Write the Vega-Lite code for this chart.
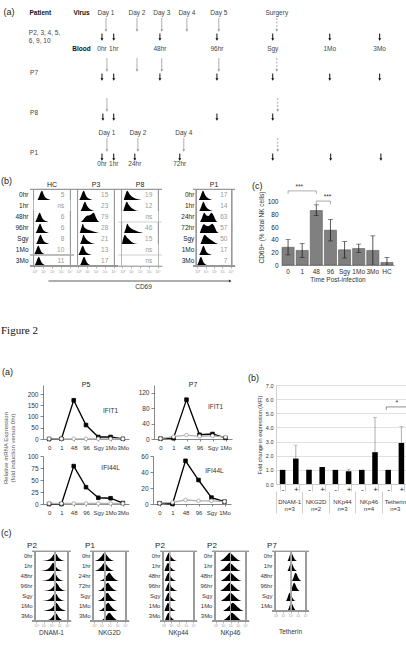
{
"$schema":"https://vega.github.io/schema/vega-lite/v6.json",
"background":"white",
"padding":0,
"config":{
 "font":"Liberation Sans",
 "view":{"stroke":null},
 "axis":{"labelFontSize":6.5,"titleFontSize":6.5,"labelColor":"#333","titleColor":"#333","titleFontWeight":"normal","domainColor":"#888","tickColor":"#888","domainWidth":0.7,"tickWidth":0.7,"grid":false,"labelPadding":2,"tickSize":2,"titlePadding":3},
 "header":{"labelFontSize":7,"labelColor":"#222","titleFontSize":7},
 "title":{"fontSize":9,"fontWeight":"normal","color":"#222","anchor":"start","frame":"bounds","offset":2},
 "text":{"fontSize":6.5,"color":"#444"}
},
"datasets":{
 "lanes":[{"lane":1},{"lane":2},{"lane":3},{"lane":4}],
 "events":[
  {"lane":1,"kind":"panel","pos":-26.1,"label":"(a)"},
  {"lane":1,"kind":"head-virus","pos":-16,"label":"Patient"},
  {"lane":1,"kind":"head-virus","pos":-2.7,"label":"Virus"},
  {"lane":1,"kind":"head-blood","pos":-2.7,"label":"Blood"},
  {"lane":1,"kind":"lane","pos":-19.7,"label":"P2, 3, 4, 5,|6, 9, 10"},
  {"lane":2,"kind":"lane","pos":-19.3,"label":"P7"},
  {"lane":3,"kind":"lane","pos":-19.3,"label":"P8"},
  {"lane":4,"kind":"lane","pos":-19.3,"label":"P1"},
  {"lane":1,"kind":"virus","pos":5.2,"label":"Day 1"},
  {"lane":1,"kind":"virus","pos":15.2,"label":"Day 2"},
  {"lane":1,"kind":"virus","pos":23.2,"label":"Day 3"},
  {"lane":1,"kind":"virus","pos":31.3,"label":"Day 4"},
  {"lane":1,"kind":"virus","pos":41.6,"label":"Day 5"},
  {"lane":1,"kind":"surgery","pos":60.3,"label":"Surgery"},
  {"lane":1,"kind":"blood","pos":3.9,"label":"0hr"},
  {"lane":1,"kind":"blood","pos":7.7,"label":"1hr"},
  {"lane":1,"kind":"blood","pos":22.6,"label":"48hr"},
  {"lane":1,"kind":"blood","pos":41.0,"label":"96hr"},
  {"lane":1,"kind":"blood","pos":59.0,"label":"Sgy"},
  {"lane":1,"kind":"blood","pos":77.4,"label":"1Mo"},
  {"lane":1,"kind":"blood","pos":93.5,"label":"3Mo"},
  {"lane":2,"kind":"virus","pos":5.5},
  {"lane":2,"kind":"virus","pos":15.2},
  {"lane":2,"kind":"virus","pos":23.2},
  {"lane":2,"kind":"virus","pos":41.6},
  {"lane":2,"kind":"surgery","pos":60.3},
  {"lane":2,"kind":"blood","pos":3.9},
  {"lane":2,"kind":"blood","pos":7.7},
  {"lane":2,"kind":"blood","pos":22.6},
  {"lane":2,"kind":"blood","pos":41.0},
  {"lane":2,"kind":"blood","pos":59.0},
  {"lane":2,"kind":"blood","pos":77.4},
  {"lane":2,"kind":"blood","pos":93.5},
  {"lane":3,"kind":"virus","pos":5.5},
  {"lane":3,"kind":"surgery","pos":60.6},
  {"lane":3,"kind":"blood","pos":4.2},
  {"lane":3,"kind":"blood","pos":7.7},
  {"lane":3,"kind":"blood","pos":41.0},
  {"lane":3,"kind":"blood","pos":59.0},
  {"lane":4,"kind":"virus","pos":5.5,"label":"Day 1"},
  {"lane":4,"kind":"virus","pos":15.5,"label":"Day 2"},
  {"lane":4,"kind":"virus","pos":30.3,"label":"Day 4"},
  {"lane":4,"kind":"surgery","pos":60.6},
  {"lane":4,"kind":"blood","pos":3.9,"label":"0hr"},
  {"lane":4,"kind":"blood","pos":7.7,"label":"1hr"},
  {"lane":4,"kind":"blood","pos":14.5,"label":"24hr"},
  {"lane":4,"kind":"blood","pos":29.0,"label":"72hr"},
  {"lane":4,"kind":"blood","pos":59.0},
  {"lane":4,"kind":"blood","pos":77.7},
  {"lane":4,"kind":"blood","pos":93.9}
 ],
 "cd69":[
  {"c":"HC","r":"0hr","n":"5"},
  {"c":"HC","r":"0hr","x":0.35,"y":0},{"c":"HC","r":"0hr","x":0.55,"y":0.4},{"c":"HC","r":"0hr","x":0.75,"y":0.9},{"c":"HC","r":"0hr","x":0.85,"y":1},{"c":"HC","r":"0hr","x":1.0,"y":0.75},{"c":"HC","r":"0hr","x":1.2,"y":0.35},{"c":"HC","r":"0hr","x":1.55,"y":0.1},{"c":"HC","r":"0hr","x":1.85,"y":0},
  {"c":"HC","r":"1hr","n":"ns"},
  {"c":"HC","r":"48hr","n":"6"},
  {"c":"HC","r":"48hr","x":0.1,"y":0},{"c":"HC","r":"48hr","x":0.3,"y":0.4},{"c":"HC","r":"48hr","x":0.5,"y":0.9},{"c":"HC","r":"48hr","x":0.6,"y":1},{"c":"HC","r":"48hr","x":0.75,"y":0.75},{"c":"HC","r":"48hr","x":0.95,"y":0.35},{"c":"HC","r":"48hr","x":1.3,"y":0.1},{"c":"HC","r":"48hr","x":1.6,"y":0},
  {"c":"HC","r":"96hr","n":"6"},
  {"c":"HC","r":"96hr","x":0.15,"y":0},{"c":"HC","r":"96hr","x":0.35,"y":0.4},{"c":"HC","r":"96hr","x":0.55,"y":0.9},{"c":"HC","r":"96hr","x":0.65,"y":1},{"c":"HC","r":"96hr","x":0.8,"y":0.75},{"c":"HC","r":"96hr","x":1.0,"y":0.35},{"c":"HC","r":"96hr","x":1.35,"y":0.1},{"c":"HC","r":"96hr","x":1.65,"y":0},
  {"c":"HC","r":"Sgy","n":"8"},
  {"c":"HC","r":"Sgy","x":0.2,"y":0},{"c":"HC","r":"Sgy","x":0.4,"y":0.4},{"c":"HC","r":"Sgy","x":0.6,"y":0.9},{"c":"HC","r":"Sgy","x":0.7,"y":1},{"c":"HC","r":"Sgy","x":0.85,"y":0.75},{"c":"HC","r":"Sgy","x":1.05,"y":0.35},{"c":"HC","r":"Sgy","x":1.4,"y":0.1},{"c":"HC","r":"Sgy","x":1.7,"y":0},
  {"c":"HC","r":"1Mo","n":"10"},
  {"c":"HC","r":"1Mo","x":-0.05,"y":0},{"c":"HC","r":"1Mo","x":0.15,"y":0.4},{"c":"HC","r":"1Mo","x":0.35,"y":0.9},{"c":"HC","r":"1Mo","x":0.45,"y":1},{"c":"HC","r":"1Mo","x":0.6,"y":0.75},{"c":"HC","r":"1Mo","x":0.8,"y":0.35},{"c":"HC","r":"1Mo","x":1.15,"y":0.1},{"c":"HC","r":"1Mo","x":1.45,"y":0},
  {"c":"HC","r":"3Mo","n":"11"},
  {"c":"HC","r":"3Mo","x":0.0,"y":0},{"c":"HC","r":"3Mo","x":0.2,"y":0.4},{"c":"HC","r":"3Mo","x":0.4,"y":0.9},{"c":"HC","r":"3Mo","x":0.5,"y":1},{"c":"HC","r":"3Mo","x":0.65,"y":0.75},{"c":"HC","r":"3Mo","x":0.85,"y":0.35},{"c":"HC","r":"3Mo","x":1.2,"y":0.1},{"c":"HC","r":"3Mo","x":1.5,"y":0},
  {"c":"P3","r":"0hr","n":"15"},
  {"c":"P3","r":"0hr","x":0.1,"y":0},{"c":"P3","r":"0hr","x":0.3,"y":0.4},{"c":"P3","r":"0hr","x":0.5,"y":0.9},{"c":"P3","r":"0hr","x":0.6,"y":1},{"c":"P3","r":"0hr","x":0.75,"y":0.75},{"c":"P3","r":"0hr","x":0.95,"y":0.35},{"c":"P3","r":"0hr","x":1.3,"y":0.1},{"c":"P3","r":"0hr","x":1.6,"y":0},
  {"c":"P3","r":"1hr","n":"23"},
  {"c":"P3","r":"1hr","x":0.25,"y":0},{"c":"P3","r":"1hr","x":0.45,"y":0.4},{"c":"P3","r":"1hr","x":0.65,"y":0.9},{"c":"P3","r":"1hr","x":0.75,"y":1},{"c":"P3","r":"1hr","x":0.9,"y":0.75},{"c":"P3","r":"1hr","x":1.1,"y":0.4},{"c":"P3","r":"1hr","x":1.45,"y":0.15},{"c":"P3","r":"1hr","x":1.8,"y":0},
  {"c":"P3","r":"48hr","n":"79"},
  {"c":"P3","r":"48hr","x":0.25,"y":0},{"c":"P3","r":"48hr","x":0.5,"y":0.2},{"c":"P3","r":"48hr","x":0.8,"y":0.55},{"c":"P3","r":"48hr","x":1.05,"y":0.7},{"c":"P3","r":"48hr","x":1.3,"y":0.75},{"c":"P3","r":"48hr","x":1.55,"y":0.9},{"c":"P3","r":"48hr","x":1.75,"y":1},{"c":"P3","r":"48hr","x":1.95,"y":0.6},{"c":"P3","r":"48hr","x":2.2,"y":0.15},{"c":"P3","r":"48hr","x":2.4,"y":0},
  {"c":"P3","r":"96hr","n":"28"},
  {"c":"P3","r":"96hr","x":0.15,"y":0},{"c":"P3","r":"96hr","x":0.35,"y":0.6},{"c":"P3","r":"96hr","x":0.5,"y":1},{"c":"P3","r":"96hr","x":0.65,"y":0.65},{"c":"P3","r":"96hr","x":0.9,"y":0.45},{"c":"P3","r":"96hr","x":1.3,"y":0.3},{"c":"P3","r":"96hr","x":1.8,"y":0.15},{"c":"P3","r":"96hr","x":2.4,"y":0},
  {"c":"P3","r":"Sgy","n":"21"},
  {"c":"P3","r":"Sgy","x":0.2,"y":0},{"c":"P3","r":"Sgy","x":0.4,"y":0.5},{"c":"P3","r":"Sgy","x":0.58,"y":1},{"c":"P3","r":"Sgy","x":0.75,"y":0.7},{"c":"P3","r":"Sgy","x":1.0,"y":0.4},{"c":"P3","r":"Sgy","x":1.4,"y":0.15},{"c":"P3","r":"Sgy","x":1.9,"y":0},
  {"c":"P3","r":"1Mo","n":"13"},
  {"c":"P3","r":"1Mo","x":0.0,"y":0},{"c":"P3","r":"1Mo","x":0.2,"y":0.4},{"c":"P3","r":"1Mo","x":0.4,"y":0.9},{"c":"P3","r":"1Mo","x":0.5,"y":1},{"c":"P3","r":"1Mo","x":0.65,"y":0.75},{"c":"P3","r":"1Mo","x":0.85,"y":0.35},{"c":"P3","r":"1Mo","x":1.2,"y":0.1},{"c":"P3","r":"1Mo","x":1.5,"y":0},
  {"c":"P3","r":"3Mo","n":"17"},
  {"c":"P3","r":"3Mo","x":0.15,"y":0},{"c":"P3","r":"3Mo","x":0.35,"y":0.4},{"c":"P3","r":"3Mo","x":0.55,"y":0.9},{"c":"P3","r":"3Mo","x":0.65,"y":1},{"c":"P3","r":"3Mo","x":0.8,"y":0.75},{"c":"P3","r":"3Mo","x":1.0,"y":0.35},{"c":"P3","r":"3Mo","x":1.35,"y":0.1},{"c":"P3","r":"3Mo","x":1.65,"y":0},
  {"c":"P8","r":"0hr","n":"19"},
  {"c":"P8","r":"0hr","x":0.15,"y":0},{"c":"P8","r":"0hr","x":0.35,"y":0.6},{"c":"P8","r":"0hr","x":0.55,"y":1},{"c":"P8","r":"0hr","x":0.75,"y":0.75},{"c":"P8","r":"0hr","x":1.0,"y":0.45},{"c":"P8","r":"0hr","x":1.4,"y":0.2},{"c":"P8","r":"0hr","x":1.9,"y":0.05},{"c":"P8","r":"0hr","x":2.2,"y":0},
  {"c":"P8","r":"1hr","n":"12"},
  {"c":"P8","r":"1hr","x":0.1,"y":0},{"c":"P8","r":"1hr","x":0.3,"y":0.6},{"c":"P8","r":"1hr","x":0.5,"y":1},{"c":"P8","r":"1hr","x":0.7,"y":0.7},{"c":"P8","r":"1hr","x":0.95,"y":0.4},{"c":"P8","r":"1hr","x":1.35,"y":0.15},{"c":"P8","r":"1hr","x":1.9,"y":0},
  {"c":"P8","r":"48hr","n":"ns"},
  {"c":"P8","r":"96hr","n":"46"},
  {"c":"P8","r":"96hr","x":0.2,"y":0},{"c":"P8","r":"96hr","x":0.4,"y":0.55},{"c":"P8","r":"96hr","x":0.55,"y":1},{"c":"P8","r":"96hr","x":0.75,"y":0.7},{"c":"P8","r":"96hr","x":1.0,"y":0.5},{"c":"P8","r":"96hr","x":1.4,"y":0.3},{"c":"P8","r":"96hr","x":1.9,"y":0.1},{"c":"P8","r":"96hr","x":2.4,"y":0},
  {"c":"P8","r":"Sgy","n":"15"},
  {"c":"P8","r":"Sgy","x":-0.05,"y":0},{"c":"P8","r":"Sgy","x":0.1,"y":0.6},{"c":"P8","r":"Sgy","x":0.28,"y":1},{"c":"P8","r":"Sgy","x":0.45,"y":0.8},{"c":"P8","r":"Sgy","x":0.75,"y":0.5},{"c":"P8","r":"Sgy","x":1.1,"y":0.2},{"c":"P8","r":"Sgy","x":1.7,"y":0},
  {"c":"P8","r":"1Mo","n":"ns"},
  {"c":"P8","r":"3Mo","n":"ns"},
  {"c":"P1","r":"0hr","n":"17"},
  {"c":"P1","r":"0hr","x":0.2,"y":0},{"c":"P1","r":"0hr","x":0.4,"y":0.4},{"c":"P1","r":"0hr","x":0.6,"y":0.9},{"c":"P1","r":"0hr","x":0.7,"y":1},{"c":"P1","r":"0hr","x":0.85,"y":0.75},{"c":"P1","r":"0hr","x":1.05,"y":0.4},{"c":"P1","r":"0hr","x":1.4,"y":0.15},{"c":"P1","r":"0hr","x":1.8,"y":0},
  {"c":"P1","r":"1hr","n":"14"},
  {"c":"P1","r":"1hr","x":0.25,"y":0},{"c":"P1","r":"1hr","x":0.45,"y":0.4},{"c":"P1","r":"1hr","x":0.65,"y":0.9},{"c":"P1","r":"1hr","x":0.75,"y":1},{"c":"P1","r":"1hr","x":0.9,"y":0.75},{"c":"P1","r":"1hr","x":1.1,"y":0.4},{"c":"P1","r":"1hr","x":1.45,"y":0.15},{"c":"P1","r":"1hr","x":1.85,"y":0},
  {"c":"P1","r":"24hr","n":"63"},
  {"c":"P1","r":"24hr","x":0.35,"y":0},{"c":"P1","r":"24hr","x":0.55,"y":0.4},{"c":"P1","r":"24hr","x":0.85,"y":1},{"c":"P1","r":"24hr","x":1.1,"y":0.7},{"c":"P1","r":"24hr","x":1.35,"y":0.65},{"c":"P1","r":"24hr","x":1.7,"y":1},{"c":"P1","r":"24hr","x":1.95,"y":0.7},{"c":"P1","r":"24hr","x":2.2,"y":0.2},{"c":"P1","r":"24hr","x":2.45,"y":0},
  {"c":"P1","r":"72hr","n":"57"},
  {"c":"P1","r":"72hr","x":0.3,"y":0},{"c":"P1","r":"72hr","x":0.5,"y":0.5},{"c":"P1","r":"72hr","x":0.8,"y":0.95},{"c":"P1","r":"72hr","x":1.05,"y":0.8},{"c":"P1","r":"72hr","x":1.3,"y":0.75},{"c":"P1","r":"72hr","x":1.55,"y":0.85},{"c":"P1","r":"72hr","x":1.8,"y":1},{"c":"P1","r":"72hr","x":2.05,"y":0.7},{"c":"P1","r":"72hr","x":2.3,"y":0.2},{"c":"P1","r":"72hr","x":2.6,"y":0},
  {"c":"P1","r":"Sgy","n":"50"},
  {"c":"P1","r":"Sgy","x":0.4,"y":0},{"c":"P1","r":"Sgy","x":0.6,"y":0.5},{"c":"P1","r":"Sgy","x":0.9,"y":1},{"c":"P1","r":"Sgy","x":1.1,"y":0.85},{"c":"P1","r":"Sgy","x":1.4,"y":0.6},{"c":"P1","r":"Sgy","x":1.8,"y":0.35},{"c":"P1","r":"Sgy","x":2.2,"y":0.1},{"c":"P1","r":"Sgy","x":2.5,"y":0},
  {"c":"P1","r":"1Mo","n":"17"},
  {"c":"P1","r":"1Mo","x":0.25,"y":0},{"c":"P1","r":"1Mo","x":0.45,"y":0.4},{"c":"P1","r":"1Mo","x":0.65,"y":0.9},{"c":"P1","r":"1Mo","x":0.75,"y":1},{"c":"P1","r":"1Mo","x":0.9,"y":0.75},{"c":"P1","r":"1Mo","x":1.1,"y":0.35},{"c":"P1","r":"1Mo","x":1.45,"y":0.1},{"c":"P1","r":"1Mo","x":1.75,"y":0},
  {"c":"P1","r":"3Mo","n":"7"},
  {"c":"P1","r":"3Mo","x":-0.05,"y":0},{"c":"P1","r":"3Mo","x":0.15,"y":0.4},{"c":"P1","r":"3Mo","x":0.35,"y":0.9},{"c":"P1","r":"3Mo","x":0.45,"y":1},{"c":"P1","r":"3Mo","x":0.6,"y":0.75},{"c":"P1","r":"3Mo","x":0.8,"y":0.35},{"c":"P1","r":"3Mo","x":1.15,"y":0.1},{"c":"P1","r":"3Mo","x":1.45,"y":0}
 ],
 "cd69bar":[
  {"t":"0","v":28,"lo":16,"hi":40},{"t":"1","v":23,"lo":12,"hi":34},{"t":"48","v":86,"lo":78,"hi":95},{"t":"96","v":55,"lo":38,"hi":72},
  {"t":"Sgy","v":24,"lo":11,"hi":37},{"t":"1Mo","v":26,"lo":20,"hi":33},{"t":"3Mo","v":23,"lo":0,"hi":46},{"t":"HC","v":4,"lo":0,"hi":12}
 ],
 "sig":[{"a":"0","b":"48","m":"1","v":117,"s":"***"},{"a":"48","b":"96","m":"96","v":101,"s":"***"}],
 "mrna":[
  {"pt":"P5","g":"IFIT1","s":"A","t":"0","v":0},{"pt":"P5","g":"IFIT1","s":"A","t":"1","v":1},{"pt":"P5","g":"IFIT1","s":"A","t":"48","v":172},{"pt":"P5","g":"IFIT1","s":"A","t":"96","v":62},{"pt":"P5","g":"IFIT1","s":"A","t":"Sgy","v":9},{"pt":"P5","g":"IFIT1","s":"A","t":"1Mo","v":9},{"pt":"P5","g":"IFIT1","s":"A","t":"3Mo","v":1},
  {"pt":"P5","g":"IFIT1","s":"B","t":"0","v":1},{"pt":"P5","g":"IFIT1","s":"B","t":"1","v":1},{"pt":"P5","g":"IFIT1","s":"B","t":"48","v":1},{"pt":"P5","g":"IFIT1","s":"B","t":"96","v":1},{"pt":"P5","g":"IFIT1","s":"B","t":"Sgy","v":1},{"pt":"P5","g":"IFIT1","s":"B","t":"1Mo","v":1},{"pt":"P5","g":"IFIT1","s":"B","t":"3Mo","v":1},
  {"pt":"P7","g":"IFIT1","s":"A","t":"0","v":1},{"pt":"P7","g":"IFIT1","s":"A","t":"1","v":2},{"pt":"P7","g":"IFIT1","s":"A","t":"48","v":102},{"pt":"P7","g":"IFIT1","s":"A","t":"96","v":11},{"pt":"P7","g":"IFIT1","s":"A","t":"Sgy","v":13},{"pt":"P7","g":"IFIT1","s":"A","t":"1Mo","v":3},
  {"pt":"P7","g":"IFIT1","s":"B","t":"0","v":1},{"pt":"P7","g":"IFIT1","s":"B","t":"1","v":6},{"pt":"P7","g":"IFIT1","s":"B","t":"48","v":10},{"pt":"P7","g":"IFIT1","s":"B","t":"96","v":7},{"pt":"P7","g":"IFIT1","s":"B","t":"Sgy","v":8},{"pt":"P7","g":"IFIT1","s":"B","t":"1Mo","v":5},
  {"pt":"P5","g":"IFI44L","s":"A","t":"0","v":0},{"pt":"P5","g":"IFI44L","s":"A","t":"1","v":0},{"pt":"P5","g":"IFI44L","s":"A","t":"48","v":79},{"pt":"P5","g":"IFI44L","s":"A","t":"96","v":35},{"pt":"P5","g":"IFI44L","s":"A","t":"Sgy","v":13},{"pt":"P5","g":"IFI44L","s":"A","t":"1Mo","v":12},{"pt":"P5","g":"IFI44L","s":"A","t":"3Mo","v":2},
  {"pt":"P5","g":"IFI44L","s":"B","t":"0","v":1},{"pt":"P5","g":"IFI44L","s":"B","t":"1","v":1},{"pt":"P5","g":"IFI44L","s":"B","t":"48","v":1},{"pt":"P5","g":"IFI44L","s":"B","t":"96","v":1},{"pt":"P5","g":"IFI44L","s":"B","t":"Sgy","v":1},{"pt":"P5","g":"IFI44L","s":"B","t":"1Mo","v":1},{"pt":"P5","g":"IFI44L","s":"B","t":"3Mo","v":1},
  {"pt":"P7","g":"IFI44L","s":"A","t":"0","v":1},{"pt":"P7","g":"IFI44L","s":"A","t":"1","v":0},{"pt":"P7","g":"IFI44L","s":"A","t":"48","v":54},{"pt":"P7","g":"IFI44L","s":"A","t":"96","v":30},{"pt":"P7","g":"IFI44L","s":"A","t":"Sgy","v":8},{"pt":"P7","g":"IFI44L","s":"A","t":"1Mo","v":3},
  {"pt":"P7","g":"IFI44L","s":"B","t":"0","v":1},{"pt":"P7","g":"IFI44L","s":"B","t":"1","v":2},{"pt":"P7","g":"IFI44L","s":"B","t":"48","v":5},{"pt":"P7","g":"IFI44L","s":"B","t":"96","v":4},{"pt":"P7","g":"IFI44L","s":"B","t":"Sgy","v":4},{"pt":"P7","g":"IFI44L","s":"B","t":"1Mo","v":3}
 ],
 "mfi":[
  {"g":"DNAM-1","gl":"DNAM-1|n=3","k":"DNAM-1|-","v":1},
  {"g":"DNAM-1","gl":"DNAM-1|n=3","k":"DNAM-1|+","v":1.8,"hi":2.75},
  {"g":"NKG2D","gl":"NKG2D|n=2","k":"NKG2D|-","v":1},
  {"g":"NKG2D","gl":"NKG2D|n=2","k":"NKG2D|+","v":1.2},
  {"g":"NKp44","gl":"NKp44|n=3","k":"NKp44|-","v":1},
  {"g":"NKp44","gl":"NKp44|n=3","k":"NKp44|+","v":0.9,"hi":1.05},
  {"g":"NKp46","gl":"NKp46|n=4","k":"NKp46|-","v":1},
  {"g":"NKp46","gl":"NKp46|n=4","k":"NKp46|+","v":2.25,"hi":4.7},
  {"g":"Tetherin","gl":"Tetherin|n=3","k":"Tetherin|-","v":1},
  {"g":"Tetherin","gl":"Tetherin|n=3","k":"Tetherin|+","v":2.9,"hi":4.05}
 ],
 "sig2":[{"a":"Tetherin|-","b":"Tetherin|+","v":5.45,"s":"*"}],
 "h2":[
  {"p":"DNAM-1","r":"0hr","x":0.75,"y":0},{"p":"DNAM-1","r":"0hr","x":1.45,"y":0.1},{"p":"DNAM-1","r":"0hr","x":1.95,"y":0.35},{"p":"DNAM-1","r":"0hr","x":2.25,"y":0.75},{"p":"DNAM-1","r":"0hr","x":2.45,"y":1},{"p":"DNAM-1","r":"0hr","x":2.65,"y":0.8},{"p":"DNAM-1","r":"0hr","x":2.95,"y":0.35},{"p":"DNAM-1","r":"0hr","x":3.35,"y":0.1},{"p":"DNAM-1","r":"0hr","x":3.75,"y":0},
  {"p":"DNAM-1","r":"1hr","x":0.5,"y":0},{"p":"DNAM-1","r":"1hr","x":1.2,"y":0.1},{"p":"DNAM-1","r":"1hr","x":1.7,"y":0.35},{"p":"DNAM-1","r":"1hr","x":2.0,"y":0.75},{"p":"DNAM-1","r":"1hr","x":2.2,"y":1},{"p":"DNAM-1","r":"1hr","x":2.4,"y":0.8},{"p":"DNAM-1","r":"1hr","x":2.7,"y":0.35},{"p":"DNAM-1","r":"1hr","x":3.1,"y":0.1},{"p":"DNAM-1","r":"1hr","x":3.5,"y":0},
  {"p":"DNAM-1","r":"48hr","x":0.65,"y":0},{"p":"DNAM-1","r":"48hr","x":1.35,"y":0.1},{"p":"DNAM-1","r":"48hr","x":1.85,"y":0.35},{"p":"DNAM-1","r":"48hr","x":2.15,"y":0.75},{"p":"DNAM-1","r":"48hr","x":2.35,"y":1},{"p":"DNAM-1","r":"48hr","x":2.55,"y":0.8},{"p":"DNAM-1","r":"48hr","x":2.85,"y":0.35},{"p":"DNAM-1","r":"48hr","x":3.25,"y":0.1},{"p":"DNAM-1","r":"48hr","x":3.65,"y":0},
  {"p":"DNAM-1","r":"96hr","x":0.9,"y":0},{"p":"DNAM-1","r":"96hr","x":1.6,"y":0.1},{"p":"DNAM-1","r":"96hr","x":2.1,"y":0.35},{"p":"DNAM-1","r":"96hr","x":2.4,"y":0.75},{"p":"DNAM-1","r":"96hr","x":2.6,"y":1},{"p":"DNAM-1","r":"96hr","x":2.8,"y":0.8},{"p":"DNAM-1","r":"96hr","x":3.1,"y":0.35},{"p":"DNAM-1","r":"96hr","x":3.5,"y":0.1},{"p":"DNAM-1","r":"96hr","x":3.9,"y":0},
  {"p":"DNAM-1","r":"Sgy","x":0.75,"y":0},{"p":"DNAM-1","r":"Sgy","x":1.45,"y":0.1},{"p":"DNAM-1","r":"Sgy","x":1.95,"y":0.35},{"p":"DNAM-1","r":"Sgy","x":2.25,"y":0.75},{"p":"DNAM-1","r":"Sgy","x":2.45,"y":1},{"p":"DNAM-1","r":"Sgy","x":2.65,"y":0.8},{"p":"DNAM-1","r":"Sgy","x":2.95,"y":0.35},{"p":"DNAM-1","r":"Sgy","x":3.35,"y":0.1},{"p":"DNAM-1","r":"Sgy","x":3.75,"y":0},
  {"p":"DNAM-1","r":"1Mo","x":0.9,"y":0},{"p":"DNAM-1","r":"1Mo","x":1.6,"y":0.15},{"p":"DNAM-1","r":"1Mo","x":2.1,"y":0.4},{"p":"DNAM-1","r":"1Mo","x":2.4,"y":0.75},{"p":"DNAM-1","r":"1Mo","x":2.6,"y":1},{"p":"DNAM-1","r":"1Mo","x":2.8,"y":0.8},{"p":"DNAM-1","r":"1Mo","x":3.1,"y":0.4},{"p":"DNAM-1","r":"1Mo","x":3.5,"y":0.15},{"p":"DNAM-1","r":"1Mo","x":3.9,"y":0},
  {"p":"DNAM-1","r":"3Mo","x":0.8,"y":0},{"p":"DNAM-1","r":"3Mo","x":1.5,"y":0.1},{"p":"DNAM-1","r":"3Mo","x":2.0,"y":0.35},{"p":"DNAM-1","r":"3Mo","x":2.3,"y":0.75},{"p":"DNAM-1","r":"3Mo","x":2.5,"y":1},{"p":"DNAM-1","r":"3Mo","x":2.7,"y":0.8},{"p":"DNAM-1","r":"3Mo","x":3.0,"y":0.35},{"p":"DNAM-1","r":"3Mo","x":3.4,"y":0.1},{"p":"DNAM-1","r":"3Mo","x":3.8,"y":0},
  {"p":"NKG2D","r":"0hr","x":0.1,"y":0},{"p":"NKG2D","r":"0hr","x":0.6,"y":0.2},{"p":"NKG2D","r":"0hr","x":1.0,"y":0.6},{"p":"NKG2D","r":"0hr","x":1.3,"y":0.95},{"p":"NKG2D","r":"0hr","x":1.4,"y":1},{"p":"NKG2D","r":"0hr","x":1.65,"y":0.7},{"p":"NKG2D","r":"0hr","x":2.0,"y":0.3},{"p":"NKG2D","r":"0hr","x":2.4,"y":0.05},{"p":"NKG2D","r":"0hr","x":2.6,"y":0},
  {"p":"NKG2D","r":"1hr","x":0.1,"y":0},{"p":"NKG2D","r":"1hr","x":0.6,"y":0.2},{"p":"NKG2D","r":"1hr","x":1.0,"y":0.6},{"p":"NKG2D","r":"1hr","x":1.3,"y":0.95},{"p":"NKG2D","r":"1hr","x":1.4,"y":1},{"p":"NKG2D","r":"1hr","x":1.65,"y":0.7},{"p":"NKG2D","r":"1hr","x":2.0,"y":0.3},{"p":"NKG2D","r":"1hr","x":2.4,"y":0.05},{"p":"NKG2D","r":"1hr","x":2.6,"y":0},
  {"p":"NKG2D","r":"24hr","x":0.7,"y":0},{"p":"NKG2D","r":"24hr","x":1.2,"y":0.2},{"p":"NKG2D","r":"24hr","x":1.6,"y":0.6},{"p":"NKG2D","r":"24hr","x":1.9,"y":0.95},{"p":"NKG2D","r":"24hr","x":2.0,"y":1},{"p":"NKG2D","r":"24hr","x":2.25,"y":0.7},{"p":"NKG2D","r":"24hr","x":2.6,"y":0.3},{"p":"NKG2D","r":"24hr","x":3.0,"y":0.05},{"p":"NKG2D","r":"24hr","x":3.2,"y":0},
  {"p":"NKG2D","r":"72hr","x":0.5,"y":0},{"p":"NKG2D","r":"72hr","x":1.0,"y":0.2},{"p":"NKG2D","r":"72hr","x":1.4,"y":0.6},{"p":"NKG2D","r":"72hr","x":1.7,"y":0.95},{"p":"NKG2D","r":"72hr","x":1.8,"y":1},{"p":"NKG2D","r":"72hr","x":2.05,"y":0.7},{"p":"NKG2D","r":"72hr","x":2.4,"y":0.3},{"p":"NKG2D","r":"72hr","x":2.8,"y":0.05},{"p":"NKG2D","r":"72hr","x":3.0,"y":0},
  {"p":"NKG2D","r":"Sgy","x":0.45,"y":0},{"p":"NKG2D","r":"Sgy","x":0.95,"y":0.2},{"p":"NKG2D","r":"Sgy","x":1.35,"y":0.6},{"p":"NKG2D","r":"Sgy","x":1.65,"y":0.95},{"p":"NKG2D","r":"Sgy","x":1.75,"y":1},{"p":"NKG2D","r":"Sgy","x":2.0,"y":0.7},{"p":"NKG2D","r":"Sgy","x":2.35,"y":0.3},{"p":"NKG2D","r":"Sgy","x":2.75,"y":0.05},{"p":"NKG2D","r":"Sgy","x":2.95,"y":0},
  {"p":"NKG2D","r":"1Mo","x":0.55,"y":0},{"p":"NKG2D","r":"1Mo","x":1.05,"y":0.2},{"p":"NKG2D","r":"1Mo","x":1.45,"y":0.6},{"p":"NKG2D","r":"1Mo","x":1.75,"y":0.95},{"p":"NKG2D","r":"1Mo","x":1.85,"y":1},{"p":"NKG2D","r":"1Mo","x":2.1,"y":0.7},{"p":"NKG2D","r":"1Mo","x":2.45,"y":0.3},{"p":"NKG2D","r":"1Mo","x":2.85,"y":0.05},{"p":"NKG2D","r":"1Mo","x":3.05,"y":0},
  {"p":"NKG2D","r":"3Mo","x":0.7,"y":0},{"p":"NKG2D","r":"3Mo","x":1.2,"y":0.2},{"p":"NKG2D","r":"3Mo","x":1.6,"y":0.6},{"p":"NKG2D","r":"3Mo","x":1.9,"y":0.95},{"p":"NKG2D","r":"3Mo","x":2.0,"y":1},{"p":"NKG2D","r":"3Mo","x":2.25,"y":0.75},{"p":"NKG2D","r":"3Mo","x":2.6,"y":0.35},{"p":"NKG2D","r":"3Mo","x":3.0,"y":0.08},{"p":"NKG2D","r":"3Mo","x":3.25,"y":0},
  {"p":"NKp44","r":"0hr","x":0.2,"y":0},{"p":"NKp44","r":"0hr","x":0.4,"y":0.5},{"p":"NKp44","r":"0hr","x":0.6,"y":0.9},{"p":"NKp44","r":"0hr","x":0.7,"y":1},{"p":"NKp44","r":"0hr","x":0.85,"y":0.75},{"p":"NKp44","r":"0hr","x":1.0,"y":0.5},{"p":"NKp44","r":"0hr","x":1.2,"y":0.3},{"p":"NKp44","r":"0hr","x":1.5,"y":0.1},{"p":"NKp44","r":"0hr","x":1.8,"y":0},
  {"p":"NKp44","r":"1hr","x":0.1,"y":0},{"p":"NKp44","r":"1hr","x":0.3,"y":0.5},{"p":"NKp44","r":"1hr","x":0.5,"y":0.9},{"p":"NKp44","r":"1hr","x":0.6,"y":1},{"p":"NKp44","r":"1hr","x":0.75,"y":0.75},{"p":"NKp44","r":"1hr","x":0.9,"y":0.5},{"p":"NKp44","r":"1hr","x":1.1,"y":0.3},{"p":"NKp44","r":"1hr","x":1.4,"y":0.1},{"p":"NKp44","r":"1hr","x":1.7,"y":0},
  {"p":"NKp44","r":"48hr","x":0.15,"y":0},{"p":"NKp44","r":"48hr","x":0.35,"y":0.5},{"p":"NKp44","r":"48hr","x":0.55,"y":0.9},{"p":"NKp44","r":"48hr","x":0.65,"y":1},{"p":"NKp44","r":"48hr","x":0.8,"y":0.75},{"p":"NKp44","r":"48hr","x":0.95,"y":0.5},{"p":"NKp44","r":"48hr","x":1.15,"y":0.3},{"p":"NKp44","r":"48hr","x":1.45,"y":0.1},{"p":"NKp44","r":"48hr","x":1.75,"y":0},
  {"p":"NKp44","r":"96hr","x":0.2,"y":0},{"p":"NKp44","r":"96hr","x":0.4,"y":0.5},{"p":"NKp44","r":"96hr","x":0.6,"y":0.9},{"p":"NKp44","r":"96hr","x":0.7,"y":1},{"p":"NKp44","r":"96hr","x":0.85,"y":0.8},{"p":"NKp44","r":"96hr","x":1.0,"y":0.55},{"p":"NKp44","r":"96hr","x":1.2,"y":0.35},{"p":"NKp44","r":"96hr","x":1.5,"y":0.12},{"p":"NKp44","r":"96hr","x":1.85,"y":0},
  {"p":"NKp44","r":"Sgy","x":0.15,"y":0},{"p":"NKp44","r":"Sgy","x":0.35,"y":0.5},{"p":"NKp44","r":"Sgy","x":0.55,"y":0.9},{"p":"NKp44","r":"Sgy","x":0.65,"y":1},{"p":"NKp44","r":"Sgy","x":0.8,"y":0.75},{"p":"NKp44","r":"Sgy","x":0.95,"y":0.5},{"p":"NKp44","r":"Sgy","x":1.15,"y":0.3},{"p":"NKp44","r":"Sgy","x":1.45,"y":0.1},{"p":"NKp44","r":"Sgy","x":1.75,"y":0},
  {"p":"NKp44","r":"1Mo","x":0.1,"y":0},{"p":"NKp44","r":"1Mo","x":0.3,"y":0.5},{"p":"NKp44","r":"1Mo","x":0.5,"y":0.9},{"p":"NKp44","r":"1Mo","x":0.6,"y":1},{"p":"NKp44","r":"1Mo","x":0.75,"y":0.75},{"p":"NKp44","r":"1Mo","x":0.9,"y":0.5},{"p":"NKp44","r":"1Mo","x":1.1,"y":0.3},{"p":"NKp44","r":"1Mo","x":1.4,"y":0.1},{"p":"NKp44","r":"1Mo","x":1.7,"y":0},
  {"p":"NKp44","r":"3Mo","x":0.15,"y":0},{"p":"NKp44","r":"3Mo","x":0.35,"y":0.5},{"p":"NKp44","r":"3Mo","x":0.55,"y":0.9},{"p":"NKp44","r":"3Mo","x":0.65,"y":1},{"p":"NKp44","r":"3Mo","x":0.8,"y":0.75},{"p":"NKp44","r":"3Mo","x":0.95,"y":0.5},{"p":"NKp44","r":"3Mo","x":1.15,"y":0.3},{"p":"NKp44","r":"3Mo","x":1.45,"y":0.1},{"p":"NKp44","r":"3Mo","x":1.75,"y":0},
  {"p":"NKp46","r":"0hr","x":0.6,"y":0},{"p":"NKp46","r":"0hr","x":1.1,"y":0.3},{"p":"NKp46","r":"0hr","x":1.5,"y":0.65},{"p":"NKp46","r":"0hr","x":1.8,"y":0.95},{"p":"NKp46","r":"0hr","x":1.9,"y":1},{"p":"NKp46","r":"0hr","x":2.2,"y":0.8},{"p":"NKp46","r":"0hr","x":2.6,"y":0.45},{"p":"NKp46","r":"0hr","x":3.0,"y":0.15},{"p":"NKp46","r":"0hr","x":3.4,"y":0},
  {"p":"NKp46","r":"1hr","x":0.6,"y":0},{"p":"NKp46","r":"1hr","x":1.1,"y":0.3},{"p":"NKp46","r":"1hr","x":1.5,"y":0.65},{"p":"NKp46","r":"1hr","x":1.8,"y":0.95},{"p":"NKp46","r":"1hr","x":1.9,"y":1},{"p":"NKp46","r":"1hr","x":2.2,"y":0.8},{"p":"NKp46","r":"1hr","x":2.6,"y":0.45},{"p":"NKp46","r":"1hr","x":3.0,"y":0.15},{"p":"NKp46","r":"1hr","x":3.4,"y":0},
  {"p":"NKp46","r":"48hr","x":0.7,"y":0},{"p":"NKp46","r":"48hr","x":1.2,"y":0.3},{"p":"NKp46","r":"48hr","x":1.6,"y":0.65},{"p":"NKp46","r":"48hr","x":1.9,"y":0.95},{"p":"NKp46","r":"48hr","x":2.0,"y":1},{"p":"NKp46","r":"48hr","x":2.3,"y":0.8},{"p":"NKp46","r":"48hr","x":2.7,"y":0.45},{"p":"NKp46","r":"48hr","x":3.1,"y":0.15},{"p":"NKp46","r":"48hr","x":3.5,"y":0},
  {"p":"NKp46","r":"96hr","x":0.6,"y":0},{"p":"NKp46","r":"96hr","x":1.1,"y":0.3},{"p":"NKp46","r":"96hr","x":1.5,"y":0.65},{"p":"NKp46","r":"96hr","x":1.8,"y":0.95},{"p":"NKp46","r":"96hr","x":1.9,"y":1},{"p":"NKp46","r":"96hr","x":2.2,"y":0.8},{"p":"NKp46","r":"96hr","x":2.6,"y":0.45},{"p":"NKp46","r":"96hr","x":3.0,"y":0.15},{"p":"NKp46","r":"96hr","x":3.4,"y":0},
  {"p":"NKp46","r":"Sgy","x":0.7,"y":0},{"p":"NKp46","r":"Sgy","x":1.2,"y":0.3},{"p":"NKp46","r":"Sgy","x":1.6,"y":0.65},{"p":"NKp46","r":"Sgy","x":1.9,"y":0.95},{"p":"NKp46","r":"Sgy","x":2.0,"y":1},{"p":"NKp46","r":"Sgy","x":2.3,"y":0.8},{"p":"NKp46","r":"Sgy","x":2.7,"y":0.45},{"p":"NKp46","r":"Sgy","x":3.1,"y":0.15},{"p":"NKp46","r":"Sgy","x":3.5,"y":0},
  {"p":"NKp46","r":"1Mo","x":1.0,"y":0},{"p":"NKp46","r":"1Mo","x":1.5,"y":0.3},{"p":"NKp46","r":"1Mo","x":1.9,"y":0.65},{"p":"NKp46","r":"1Mo","x":2.2,"y":0.95},{"p":"NKp46","r":"1Mo","x":2.3,"y":1},{"p":"NKp46","r":"1Mo","x":2.6,"y":0.8},{"p":"NKp46","r":"1Mo","x":3.0,"y":0.45},{"p":"NKp46","r":"1Mo","x":3.4,"y":0.15},{"p":"NKp46","r":"1Mo","x":3.8,"y":0},
  {"p":"NKp46","r":"3Mo","x":0.9,"y":0},{"p":"NKp46","r":"3Mo","x":1.4,"y":0.3},{"p":"NKp46","r":"3Mo","x":1.8,"y":0.65},{"p":"NKp46","r":"3Mo","x":2.1,"y":0.95},{"p":"NKp46","r":"3Mo","x":2.2,"y":1},{"p":"NKp46","r":"3Mo","x":2.5,"y":0.8},{"p":"NKp46","r":"3Mo","x":2.9,"y":0.45},{"p":"NKp46","r":"3Mo","x":3.3,"y":0.15},{"p":"NKp46","r":"3Mo","x":3.7,"y":0},
  {"p":"Tetherin","r":"0hr","x":1.6,"y":0},{"p":"Tetherin","r":"0hr","x":1.8,"y":0.4},{"p":"Tetherin","r":"0hr","x":2.0,"y":0.9},{"p":"Tetherin","r":"0hr","x":2.1,"y":1},{"p":"Tetherin","r":"0hr","x":2.25,"y":0.8},{"p":"Tetherin","r":"0hr","x":2.45,"y":0.4},{"p":"Tetherin","r":"0hr","x":2.7,"y":0.1},{"p":"Tetherin","r":"0hr","x":2.9,"y":0},
  {"p":"Tetherin","r":"1hr","x":1.6,"y":0},{"p":"Tetherin","r":"1hr","x":1.8,"y":0.4},{"p":"Tetherin","r":"1hr","x":2.0,"y":0.9},{"p":"Tetherin","r":"1hr","x":2.1,"y":1},{"p":"Tetherin","r":"1hr","x":2.25,"y":0.8},{"p":"Tetherin","r":"1hr","x":2.45,"y":0.4},{"p":"Tetherin","r":"1hr","x":2.7,"y":0.1},{"p":"Tetherin","r":"1hr","x":2.9,"y":0},
  {"p":"Tetherin","r":"48hr","x":2.2,"y":0},{"p":"Tetherin","r":"48hr","x":2.4,"y":0.4},{"p":"Tetherin","r":"48hr","x":2.6,"y":0.9},{"p":"Tetherin","r":"48hr","x":2.7,"y":1},{"p":"Tetherin","r":"48hr","x":2.85,"y":0.8},{"p":"Tetherin","r":"48hr","x":3.05,"y":0.4},{"p":"Tetherin","r":"48hr","x":3.3,"y":0.1},{"p":"Tetherin","r":"48hr","x":3.5,"y":0},
  {"p":"Tetherin","r":"96hr","x":2.0,"y":0},{"p":"Tetherin","r":"96hr","x":2.2,"y":0.4},{"p":"Tetherin","r":"96hr","x":2.4,"y":0.9},{"p":"Tetherin","r":"96hr","x":2.5,"y":1},{"p":"Tetherin","r":"96hr","x":2.65,"y":0.8},{"p":"Tetherin","r":"96hr","x":2.85,"y":0.4},{"p":"Tetherin","r":"96hr","x":3.1,"y":0.1},{"p":"Tetherin","r":"96hr","x":3.3,"y":0},
  {"p":"Tetherin","r":"Sgy","x":1.4,"y":0},{"p":"Tetherin","r":"Sgy","x":1.6,"y":0.4},{"p":"Tetherin","r":"Sgy","x":1.8,"y":0.9},{"p":"Tetherin","r":"Sgy","x":1.9,"y":1},{"p":"Tetherin","r":"Sgy","x":2.05,"y":0.8},{"p":"Tetherin","r":"Sgy","x":2.25,"y":0.4},{"p":"Tetherin","r":"Sgy","x":2.5,"y":0.1},{"p":"Tetherin","r":"Sgy","x":2.7,"y":0},
  {"p":"Tetherin","r":"1Mo","x":1.6,"y":0},{"p":"Tetherin","r":"1Mo","x":1.8,"y":0.4},{"p":"Tetherin","r":"1Mo","x":2.0,"y":0.9},{"p":"Tetherin","r":"1Mo","x":2.1,"y":1},{"p":"Tetherin","r":"1Mo","x":2.25,"y":0.8},{"p":"Tetherin","r":"1Mo","x":2.45,"y":0.4},{"p":"Tetherin","r":"1Mo","x":2.7,"y":0.1},{"p":"Tetherin","r":"1Mo","x":2.9,"y":0}
 ]
},
"spacing":5,
"vconcat":[
 {
  "width":406,"height":172,
  "data":{"name":"events"},
  "encoding":{
   "x":{"field":"pos","type":"quantitative","scale":{"domain":[-29,102]},"axis":null},
   "y":{"field":"lane","type":"quantitative","scale":{"domain":[0.175,4.475],"reverse":true},"axis":null}
  },
  "layer":[
   {"data":{"name":"lanes"},"mark":{"type":"rule","color":"#9a9a9a","strokeWidth":0.8},"encoding":{"x":{"datum":0},"x2":{"datum":100.5}}},
   {"data":{"name":"lanes"},"mark":{"type":"point","shape":"triangle-right","filled":true,"color":"#9a9a9a","size":10,"opacity":1},"encoding":{"x":{"datum":100.5}}},
   {"transform":[{"filter":"datum.kind == 'virus'"}],"mark":{"type":"rule","color":"#9a9a9a","strokeWidth":0.8,"yOffset":-15,"y2Offset":-3},"encoding":{"y2":{"field":"lane"}}},
   {"transform":[{"filter":"datum.kind == 'virus'"}],"mark":{"type":"point","shape":"triangle-down","filled":true,"color":"#9a9a9a","size":8,"yOffset":-2.5,"opacity":1}},
   {"transform":[{"filter":"datum.kind == 'surgery'"}],"mark":{"type":"rule","color":"#9a9a9a","strokeWidth":0.8,"strokeDash":[2,1.5],"yOffset":-15,"y2Offset":-3},"encoding":{"y2":{"field":"lane"}}},
   {"transform":[{"filter":"datum.kind == 'surgery'"}],"mark":{"type":"point","shape":"triangle-down","filled":true,"color":"#9a9a9a","size":8,"yOffset":-2.5,"opacity":1}},
   {"transform":[{"filter":"datum.kind == 'blood'"}],"mark":{"type":"rule","color":"#111","strokeWidth":1,"yOffset":0.5,"y2Offset":6},"encoding":{"y2":{"field":"lane"}}},
   {"transform":[{"filter":"datum.kind == 'blood'"}],"mark":{"type":"point","shape":"triangle-down","filled":true,"color":"#111","size":9,"yOffset":6.5,"opacity":1}},
   {"transform":[{"filter":"(datum.kind == 'virus' || datum.kind == 'surgery') && isValid(datum.label)"}],"mark":{"type":"text","yOffset":-20},"encoding":{"text":{"field":"label"}}},
   {"transform":[{"filter":"datum.kind == 'blood' && datum.lane != 4 && isValid(datum.label)"}],"mark":{"type":"text","yOffset":16},"encoding":{"text":{"field":"label"}}},
   {"transform":[{"filter":"datum.kind == 'blood' && datum.lane == 4 && isValid(datum.label)"}],"mark":{"type":"text","yOffset":11},"encoding":{"text":{"field":"label"}}},
   {"transform":[{"filter":"datum.kind == 'lane'"}],"mark":{"type":"text","align":"left","baseline":"middle","lineBreak":"|","lineHeight":8},"encoding":{"text":{"field":"label"}}},
   {"transform":[{"filter":"datum.kind == 'head-virus'"}],"mark":{"type":"text","yOffset":-20,"fontWeight":"bold","color":"#111"},"encoding":{"text":{"field":"label"}}},
   {"transform":[{"filter":"datum.kind == 'head-blood'"}],"mark":{"type":"text","yOffset":16,"fontWeight":"bold","color":"#111"},"encoding":{"text":{"field":"label"}}},
   {"transform":[{"filter":"datum.kind == 'panel'"}],"mark":{"type":"text","yOffset":-21,"fontSize":9,"color":"#222"},"encoding":{"text":{"field":"label"}}}
  ]
 },
 {
  "spacing":34,
  "vconcat":[
   {
    "spacing":3,
    "hconcat":[
     {"width":2,"height":2,"data":{"values":[{"t":"(b)"}]},"mark":{"type":"text","align":"left","baseline":"middle","fontSize":9,"color":"#222","dy":-9},"encoding":{"text":{"field":"t"}}},
     {
      "spacing":16,
      "hconcat":[
       {
        "spacing":6,
        "vconcat":[
         {
          "spacing":18,
          "hconcat":[
           {
            "data":{"name":"cd69"},
            "transform":[{"filter":"datum.c != 'P1'"}],
            "bounds":"flush",
            "facet":{
             "column":{"field":"c","type":"nominal","sort":["HC","P3","P8"],"header":{"title":null,"labelFontSize":7,"labelPadding":1,"labelColor":"#222"}},
             "row":{"field":"r","type":"nominal","sort":["0hr","1hr","48hr","96hr","Sgy","1Mo","3Mo"],"header":{"title":null,"labels":false}}
            },
            "spacing":{"row":0,"column":0},
            "spec":{
             "width":44,"height":11,
             "layer":[
              {"transform":[{"filter":"isValid(datum.x)"}],"mark":{"type":"area","color":"#000","interpolate":"monotone"},
               "encoding":{"x":{"field":"x","type":"quantitative","scale":{"domain":[-0.1,4.1]},"axis":{"title":null,"values":[0,1,2,3,4],"tickCount":10,"labelFontSize":3.5,"labelColor":"#999","tickSize":2,"labelPadding":1,"labelFlush":true,"domainColor":"#999","tickColor":"#999","labelExpr":"'10' + ['⁰','¹','²','³','⁴'][datum.value]"}},
                           "y":{"field":"y","type":"quantitative","scale":{"domain":[0,1.15]},"axis":null}}},
              {"transform":[{"filter":"isValid(datum.n)"}],"mark":{"type":"text","align":"right","baseline":"middle","fontSize":6.5,"color":"#999"},
               "encoding":{"x":{"datum":3.4},"y":{"datum":0.55,"axis":null},"text":{"field":"n"}}},
              {"transform":[{"filter":"isValid(datum.n) && datum.c == 'HC'"}],"mark":{"type":"text","align":"right","baseline":"middle","fontSize":6.5,"color":"#222","dx":-5},
               "encoding":{"x":{"datum":-0.1},"y":{"datum":0.575,"axis":null},"text":{"field":"r"}}},
              {"mark":{"type":"rule","color":"#999","strokeWidth":0.7},"encoding":{"x":{"datum":-0.1}}},
              {"mark":{"type":"rule","color":"#999","strokeWidth":0.7},"encoding":{"x":{"datum":4.1}}},
              {"transform":[{"filter":"datum.r == '0hr'"}],"mark":{"type":"rule","color":"#999","strokeWidth":0.7},"encoding":{"y":{"datum":1.15,"axis":null}}},
              {"transform":[{"filter":"datum.r == '3Mo'"}],"mark":{"type":"rule","color":"#999","strokeWidth":0.7},"encoding":{"y":{"datum":0,"axis":null}}},
              {"transform":[{"filter":"(datum.c == 'P8' && (datum.r == '48hr' || datum.r == '1Mo')) || (datum.c == 'HC' && datum.r == '1Mo')"}],"mark":{"type":"rule","color":"#bbb","strokeWidth":0.7},"encoding":{"y":{"datum":0,"axis":null}}}
             ]
            }
           },
           {
            "data":{"name":"cd69"},
            "transform":[{"filter":"datum.c == 'P1'"}],
            "bounds":"flush",
            "facet":{
             "column":{"field":"c","type":"nominal","header":{"title":null,"labelFontSize":7,"labelPadding":1,"labelColor":"#222"}},
             "row":{"field":"r","type":"nominal","sort":["0hr","1hr","24hr","72hr","Sgy","1Mo","3Mo"],"header":{"title":null,"labels":false}}
            },
            "spacing":{"row":0,"column":0},
            "spec":{
             "width":42,"height":11,
             "layer":[
              {"transform":[{"filter":"isValid(datum.x)"}],"mark":{"type":"area","color":"#000","interpolate":"monotone"},
               "encoding":{"x":{"field":"x","type":"quantitative","scale":{"domain":[-0.1,4.1]},"axis":{"title":null,"values":[0,1,2,3,4],"tickCount":10,"labelFontSize":3.5,"labelColor":"#999","tickSize":2,"labelPadding":1,"labelFlush":true,"domainColor":"#999","tickColor":"#999","labelExpr":"'10' + ['⁰','¹','²','³','⁴'][datum.value]"}},
                           "y":{"field":"y","type":"quantitative","scale":{"domain":[0,1.15]},"axis":null}}},
              {"transform":[{"filter":"isValid(datum.n)"}],"mark":{"type":"text","align":"right","baseline":"middle","fontSize":6.5,"color":"#999"},
               "encoding":{"x":{"datum":3.6},"y":{"datum":0.55,"axis":null},"text":{"field":"n"}}},
              {"transform":[{"filter":"isValid(datum.n)"}],"mark":{"type":"text","align":"right","baseline":"middle","fontSize":6.5,"color":"#222","dx":-2},
               "encoding":{"x":{"datum":-0.1},"y":{"datum":0.575,"axis":null},"text":{"field":"r"}}},
              {"mark":{"type":"rule","color":"#999","strokeWidth":0.7},"encoding":{"x":{"datum":-0.1}}},
              {"mark":{"type":"rule","color":"#999","strokeWidth":0.7},"encoding":{"x":{"datum":4.1}}},
              {"transform":[{"filter":"datum.r == '0hr'"}],"mark":{"type":"rule","color":"#999","strokeWidth":0.7},"encoding":{"y":{"datum":1.15,"axis":null}}},
              {"transform":[{"filter":"datum.r == '3Mo'"}],"mark":{"type":"rule","color":"#999","strokeWidth":0.7},"encoding":{"y":{"datum":0,"axis":null}}}
             ]
            }
           }
          ]
         },
         {
          "width":203,"height":6,
          "data":{"values":[{"lab":"CD69"}]},
          "layer":[
           {"mark":{"type":"rule","color":"#333","strokeWidth":0.8},"encoding":{"x":{"datum":0,"type":"quantitative","scale":{"domain":[-0.015,1]},"axis":null},"x2":{"datum":0.985},"y":{"datum":1,"type":"quantitative","scale":{"domain":[0,1]},"axis":null}}},
           {"mark":{"type":"point","shape":"triangle-right","filled":true,"size":10,"color":"#333","opacity":1},"encoding":{"x":{"datum":0.985,"type":"quantitative","axis":null},"y":{"datum":1,"type":"quantitative","axis":null}}},
           {"mark":{"type":"text","baseline":"top","dy":3,"color":"#333","fontSize":6.5},"encoding":{"x":{"datum":0.515,"type":"quantitative","axis":null},"y":{"datum":1,"type":"quantitative","axis":null},"text":{"field":"lab"}}}
          ]
         }
        ]
       },
       {
        "width":113,"height":76,
        "layer":[
         {"data":{"name":"cd69bar"},"mark":{"type":"bar","color":"#808080","stroke":"#4d4d4d","strokeWidth":0.5},
          "encoding":{"x":{"field":"t","type":"nominal","title":"Time Post-infection","scale":{"domain":["0","1","48","96","Sgy","1Mo","3Mo","HC"],"paddingInner":0.14,"paddingOuter":0.07},"axis":{"labelAngle":0,"ticks":false,"labelPadding":3,"titlePadding":2,"domainColor":"#666"}},
                      "y":{"field":"v","type":"quantitative","title":"CD69+ (% total NK cells)","scale":{"domain":[0,111.8]},"axis":{"values":[0,20,40,60,80,100],"tickCount":20,"ticks":false,"domain":false,"labelPadding":3,"titlePadding":3,"labelOverlap":false,"labelColor":"#222"}}}},
         {"data":{"name":"cd69bar"},"mark":{"type":"rule","color":"#111","strokeWidth":0.7},
          "encoding":{"x":{"field":"t","type":"nominal","title":"Time Post-infection"},"y":{"field":"lo","type":"quantitative","title":"CD69+ (% total NK cells)"},"y2":{"field":"hi"}}},
         {"data":{"name":"cd69bar"},"mark":{"type":"tick","color":"#111","thickness":0.7,"size":5},
          "encoding":{"x":{"field":"t","type":"nominal","title":"Time Post-infection"},"y":{"field":"hi","type":"quantitative","title":"CD69+ (% total NK cells)"}}},
         {"data":{"name":"cd69bar"},"transform":[{"filter":"datum.lo > 0"}],"mark":{"type":"tick","color":"#111","thickness":0.7,"size":5},
          "encoding":{"x":{"field":"t","type":"nominal","title":"Time Post-infection"},"y":{"field":"lo","type":"quantitative","title":"CD69+ (% total NK cells)"}}},
         {"data":{"name":"sig"},"mark":{"type":"rule","color":"#777","strokeWidth":0.6},
          "encoding":{"x":{"field":"a","type":"nominal","title":"Time Post-infection"},"x2":{"field":"b"},"y":{"field":"v","type":"quantitative","title":"CD69+ (% total NK cells)"}}},
         {"data":{"name":"sig"},"mark":{"type":"rule","color":"#777","strokeWidth":0.6,"y2Offset":3},
          "encoding":{"x":{"field":"a","type":"nominal","title":"Time Post-infection"},"y":{"field":"v","type":"quantitative","title":"CD69+ (% total NK cells)"},"y2":{"field":"v"}}},
         {"data":{"name":"sig"},"mark":{"type":"rule","color":"#777","strokeWidth":0.6,"y2Offset":3},
          "encoding":{"x":{"field":"b","type":"nominal","title":"Time Post-infection"},"y":{"field":"v","type":"quantitative","title":"CD69+ (% total NK cells)"},"y2":{"field":"v"}}},
         {"data":{"name":"sig"},"mark":{"type":"text","baseline":"bottom","dy":-1,"dx":-3,"fontSize":6.5,"color":"#333"},
          "encoding":{"x":{"field":"m","type":"nominal","title":"Time Post-infection"},"y":{"field":"v","type":"quantitative","title":"CD69+ (% total NK cells)"},"text":{"field":"s"}}},
         {"data":{"name":"cd69bar"},"transform":[{"filter":"datum.t == '0'"}],"mark":{"type":"text","align":"left","baseline":"middle","fontSize":9,"color":"#222","dx":-36,"dy":-16},
          "encoding":{"x":{"field":"t","type":"nominal","title":"Time Post-infection"},"y":{"datum":100},"text":{"value":"(c)"}}}
        ]
       }
      ]
     }
    ]
   },
   {
    "spacing":-2,
    "vconcat":[
     {
      "width":2,"height":2,
      "data":{"values":[{"t":"Figure 2"}]},
      "layer":[
       {"mark":{"type":"text","align":"left","baseline":"middle","font":"Liberation Serif","fontSize":11,"color":"#111"},"encoding":{"text":{"field":"t"}}},
       {"mark":{"type":"text","align":"left","baseline":"middle","fontSize":9,"color":"#222","dx":1,"dy":41},"encoding":{"text":{"value":"(a)"}}},
       {"mark":{"type":"text","align":"left","baseline":"middle","fontSize":9,"color":"#222","dx":247,"dy":47},"encoding":{"text":{"value":"(b)"}}}
      ]
     },
     {
      "spacing":14,
      "vconcat":[
       {
        "spacing":1,
        "hconcat":[
         {"width":2,"height":2,"data":{"values":[{"t":""}]},"mark":{"type":"point","opacity":0,"size":1},"encoding":{}},
         {
          "spacing":25,
          "hconcat":[
           {
            "title":{"text":["Relative mRNA Expression","(fold induction versus 0hr)"],"orient":"left","anchor":"middle","fontSize":6,"color":"#555","offset":11,"lineHeight":7},
            "spacing":3,
            "vconcat":[
             {
              "spacing":9,
              "hconcat":[
               {
                "width":86,"height":54,
                "title":{"text":"P5","anchor":"middle","frame":"group","fontSize":7,"offset":-3},
                "layer":[
                 {"data":{"name":"mrna"},"transform":[{"filter":"datum.pt == 'P5' && datum.g == 'IFIT1'"}],"mark":{"type":"line","strokeWidth":1.3},
                  "encoding":{"x":{"field":"t","type":"ordinal","scale":{"type":"point","padding":0.5,"domain":["0","1","48","96","Sgy","1Mo","3Mo"]},"axis":{"title":null,"labelAngle":0,"labelFontSize":6,"tickSize":2,"domainColor":"#555","tickColor":"#555","labelPadding":3}},
                              "y":{"field":"v","type":"quantitative","scale":{"domain":[0,220.4]},"axis":{"values":[0,50,100,150,200],"tickCount":20,"labelOverlap":false,"title":null,"tickSize":3,"domainColor":"#555","tickColor":"#555","minExtent":15}},
                              "color":{"field":"s","type":"nominal","scale":{"domain":["A","B"],"range":["#000","#b3b3b3"]},"legend":null}}},
                 {"data":{"name":"mrna"},"transform":[{"filter":"datum.pt == 'P5' && datum.g == 'IFIT1'"}],"mark":{"type":"point","size":13,"strokeWidth":0.8,"opacity":1},
                  "encoding":{"x":{"field":"t","type":"ordinal"},"y":{"field":"v","type":"quantitative"},
                              "shape":{"field":"s","type":"nominal","scale":{"domain":["A","B"],"range":["square","circle"]},"legend":null},
                              "fill":{"field":"s","type":"nominal","scale":{"domain":["A","B"],"range":["#000","#fff"]},"legend":null},
                              "stroke":{"field":"s","type":"nominal","scale":{"domain":["A","B"],"range":["#000","#a0a0a0"]},"legend":null}}},
                 {"data":{"name":"mrna"},"transform":[{"filter":"datum.pt == 'P5' && datum.g == 'IFIT1'"},{"aggregate":[{"op":"count","as":"n"}],"groupby":["g"]}],"mark":{"type":"text","fontSize":6.5,"color":"#333"},
                  "encoding":{"x":{"datum":"1Mo","type":"ordinal"},"y":{"datum":125,"type":"quantitative"},"text":{"field":"g"}}}
                ]
               },
               {
                "width":78,"height":54,
                "title":{"text":"P7","anchor":"middle","frame":"group","fontSize":7,"offset":-3},
                "layer":[
                 {"data":{"name":"mrna"},"transform":[{"filter":"datum.pt == 'P7' && datum.g == 'IFIT1'"}],"mark":{"type":"line","strokeWidth":1.3},
                  "encoding":{"x":{"field":"t","type":"ordinal","scale":{"type":"point","padding":0.5,"domain":["0","1","48","96","Sgy","1Mo"]},"axis":{"title":null,"labelAngle":0,"labelFontSize":6,"tickSize":2,"domainColor":"#555","tickColor":"#555","labelPadding":3}},
                              "y":{"field":"v","type":"quantitative","scale":{"domain":[0,132.2]},"axis":{"values":[0,40,80,120],"tickCount":20,"labelOverlap":false,"title":null,"tickSize":3,"domainColor":"#555","tickColor":"#555","minExtent":15}},
                              "color":{"field":"s","type":"nominal","scale":{"domain":["A","B"],"range":["#000","#b3b3b3"]},"legend":null}}},
                 {"data":{"name":"mrna"},"transform":[{"filter":"datum.pt == 'P7' && datum.g == 'IFIT1'"}],"mark":{"type":"point","size":13,"strokeWidth":0.8,"opacity":1},
                  "encoding":{"x":{"field":"t","type":"ordinal"},"y":{"field":"v","type":"quantitative"},
                              "shape":{"field":"s","type":"nominal","scale":{"domain":["A","B"],"range":["square","circle"]},"legend":null},
                              "fill":{"field":"s","type":"nominal","scale":{"domain":["A","B"],"range":["#000","#fff"]},"legend":null},
                              "stroke":{"field":"s","type":"nominal","scale":{"domain":["A","B"],"range":["#000","#a0a0a0"]},"legend":null}}},
                 {"data":{"name":"mrna"},"transform":[{"filter":"datum.pt == 'P7' && datum.g == 'IFIT1'"},{"aggregate":[{"op":"count","as":"n"}],"groupby":["g"]}],"mark":{"type":"text","fontSize":6.5,"color":"#333","dx":3},
                  "encoding":{"x":{"datum":"Sgy","type":"ordinal"},"y":{"datum":83,"type":"quantitative"},"text":{"field":"g"}}}
                ]
               }
              ]
             },
             {
              "spacing":9,
              "hconcat":[
               {
                "width":86,"height":48,
                "layer":[
                 {"data":{"name":"mrna"},"transform":[{"filter":"datum.pt == 'P5' && datum.g == 'IFI44L'"}],"mark":{"type":"line","strokeWidth":1.3},
                  "encoding":{"x":{"field":"t","type":"ordinal","scale":{"type":"point","padding":0.5,"domain":["0","1","48","96","Sgy","1Mo","3Mo"]},"axis":{"title":null,"labelAngle":0,"labelFontSize":6,"tickSize":2,"domainColor":"#555","tickColor":"#555","labelPadding":3}},
                              "y":{"field":"v","type":"quantitative","scale":{"domain":[0,100]},"axis":{"values":[0,25,50,75,100],"tickCount":20,"labelOverlap":false,"title":null,"tickSize":3,"domainColor":"#555","tickColor":"#555","minExtent":15}},
                              "color":{"field":"s","type":"nominal","scale":{"domain":["A","B"],"range":["#000","#b3b3b3"]},"legend":null}}},
                 {"data":{"name":"mrna"},"transform":[{"filter":"datum.pt == 'P5' && datum.g == 'IFI44L'"}],"mark":{"type":"point","size":13,"strokeWidth":0.8,"opacity":1},
                  "encoding":{"x":{"field":"t","type":"ordinal"},"y":{"field":"v","type":"quantitative"},
                              "shape":{"field":"s","type":"nominal","scale":{"domain":["A","B"],"range":["square","circle"]},"legend":null},
                              "fill":{"field":"s","type":"nominal","scale":{"domain":["A","B"],"range":["#000","#fff"]},"legend":null},
                              "stroke":{"field":"s","type":"nominal","scale":{"domain":["A","B"],"range":["#000","#a0a0a0"]},"legend":null}}},
                 {"data":{"name":"mrna"},"transform":[{"filter":"datum.pt == 'P5' && datum.g == 'IFI44L'"},{"aggregate":[{"op":"count","as":"n"}],"groupby":["g"]}],"mark":{"type":"text","fontSize":6.5,"color":"#333"},
                  "encoding":{"x":{"datum":"1Mo","type":"ordinal"},"y":{"datum":74,"type":"quantitative"},"text":{"field":"g"}}}
                ]
               },
               {
                "width":78,"height":48,
                "layer":[
                 {"data":{"name":"mrna"},"transform":[{"filter":"datum.pt == 'P7' && datum.g == 'IFI44L'"}],"mark":{"type":"line","strokeWidth":1.3},
                  "encoding":{"x":{"field":"t","type":"ordinal","scale":{"type":"point","padding":0.5,"domain":["0","1","48","96","Sgy","1Mo"]},"axis":{"title":null,"labelAngle":0,"labelFontSize":6,"tickSize":2,"domainColor":"#555","tickColor":"#555","labelPadding":3}},
                              "y":{"field":"v","type":"quantitative","scale":{"domain":[0,60]},"axis":{"values":[0,20,40,60],"tickCount":20,"labelOverlap":false,"title":null,"tickSize":3,"domainColor":"#555","tickColor":"#555","minExtent":15}},
                              "color":{"field":"s","type":"nominal","scale":{"domain":["A","B"],"range":["#000","#b3b3b3"]},"legend":null}}},
                 {"data":{"name":"mrna"},"transform":[{"filter":"datum.pt == 'P7' && datum.g == 'IFI44L'"}],"mark":{"type":"point","size":13,"strokeWidth":0.8,"opacity":1},
                  "encoding":{"x":{"field":"t","type":"ordinal"},"y":{"field":"v","type":"quantitative"},
                              "shape":{"field":"s","type":"nominal","scale":{"domain":["A","B"],"range":["square","circle"]},"legend":null},
                              "fill":{"field":"s","type":"nominal","scale":{"domain":["A","B"],"range":["#000","#fff"]},"legend":null},
                              "stroke":{"field":"s","type":"nominal","scale":{"domain":["A","B"],"range":["#000","#a0a0a0"]},"legend":null}}},
                 {"data":{"name":"mrna"},"transform":[{"filter":"datum.pt == 'P7' && datum.g == 'IFI44L'"},{"aggregate":[{"op":"count","as":"n"}],"groupby":["g"]}],"mark":{"type":"text","fontSize":6.5,"color":"#333","dx":3},
                  "encoding":{"x":{"datum":"Sgy","type":"ordinal"},"y":{"datum":41,"type":"quantitative"},"text":{"field":"g"}}}
                ]
               }
              ]
             }
            ]
           },
           {
            "width":132,"height":99,
            "resolve":{"scale":{"x":"independent"},"axis":{"x":"independent"}},
            "layer":[
             {
              "layer":[
               {"data":{"name":"mfi"},"mark":{"type":"bar","color":"#000"},
                "encoding":{"x":{"field":"k","type":"nominal","title":null,"scale":{"domain":["DNAM-1|-","DNAM-1|+","NKG2D|-","NKG2D|+","NKp44|-","NKp44|+","NKp46|-","NKp46|+","Tetherin|-","Tetherin|+"],"paddingInner":0.58,"paddingOuter":0.29},
                                 "axis":{"labelAngle":0,"labelExpr":"split(datum.label, '|')[1]","labelFontSize":8,"labelColor":"#222","tickBand":"extent","tickSize":7,"tickColor":"#bbb","domainColor":"#bbb","labelPadding":-6}},
                            "y":{"field":"v","type":"quantitative","title":"Fold change in expression (MFI)","scale":{"domain":[0,7]},"axis":{"values":[0,1,2,3,4,5,6,7],"tickCount":20,"labelOverlap":false,"grid":true,"gridColor":"#d9d9d9","gridWidth":0.8,"labelFontSize":5.5,"titleFontSize":5.5,"ticks":false,"domainColor":"#bbb","labelPadding":3,"titlePadding":3}}}},
               {"data":{"name":"mfi"},"transform":[{"filter":"isValid(datum.hi)"}],"mark":{"type":"rule","color":"#777","strokeWidth":0.6},
                "encoding":{"x":{"field":"k","type":"nominal","title":null},"y":{"field":"v","type":"quantitative","title":"Fold change in expression (MFI)"},"y2":{"field":"hi"}}},
               {"data":{"name":"mfi"},"transform":[{"filter":"isValid(datum.hi)"}],"mark":{"type":"tick","color":"#777","thickness":0.6,"size":4},
                "encoding":{"x":{"field":"k","type":"nominal","title":null},"y":{"field":"hi","type":"quantitative","title":"Fold change in expression (MFI)"}}},
               {"data":{"name":"sig2"},"mark":{"type":"rule","color":"#444","strokeWidth":0.6,"xOffset":-2,"x2Offset":6},
                "encoding":{"x":{"field":"a","type":"nominal","title":null},"x2":{"field":"b"},"y":{"field":"v","type":"quantitative","title":"Fold change in expression (MFI)"}}},
               {"data":{"name":"sig2"},"mark":{"type":"rule","color":"#444","strokeWidth":0.6,"xOffset":-2,"y2Offset":3},
                "encoding":{"x":{"field":"a","type":"nominal","title":null},"y":{"field":"v","type":"quantitative","title":"Fold change in expression (MFI)"},"y2":{"field":"v"}}},
               {"data":{"name":"sig2"},"mark":{"type":"rule","color":"#444","strokeWidth":0.6,"xOffset":6,"y2Offset":3},
                "encoding":{"x":{"field":"b","type":"nominal","title":null},"y":{"field":"v","type":"quantitative","title":"Fold change in expression (MFI)"},"y2":{"field":"v"}}},
               {"data":{"name":"sig2"},"mark":{"type":"text","baseline":"bottom","dx":-4.5,"dy":-1,"fontSize":7,"color":"#333"},
                "encoding":{"x":{"field":"b","type":"nominal","title":null},"y":{"field":"v","type":"quantitative","title":"Fold change in expression (MFI)"},"text":{"field":"s"}}}
              ]
             },
             {"data":{"name":"mfi"},"mark":{"type":"rule","opacity":0},
              "encoding":{"x":{"field":"gl","type":"nominal","title":null,"scale":{"domain":["DNAM-1|n=3","NKG2D|n=2","NKp44|n=3","NKp46|n=4","Tetherin|n=3"],"paddingInner":0,"paddingOuter":0},
                               "axis":{"orient":"bottom","offset":7,"labelExpr":"split(datum.label, '|')","labelAngle":0,"labelFontSize":6,"labelColor":"#333","labelLineHeight":7.5,"tickBand":"extent","tickSize":22,"tickColor":"#bbb","domain":false,"labelPadding":-15,"labelBaseline":"top"}}}}
            ]
           }
          ]
         }
        ]
       },
       {
        "spacing":8,
        "hconcat":[
         {"width":2,"height":2,"data":{"values":[{"t":"(c)"}]},"mark":{"type":"text","align":"left","baseline":"middle","fontSize":9,"color":"#222","dy":-19},"encoding":{"text":{"field":"t"}}},
         {
          "spacing":18,
          "hconcat":[
           {
            "spacing":6,
            "hconcat":[
             {
              "data":{"name":"h2"},"transform":[{"filter":"datum.p == 'DNAM-1'"}],
              "bounds":"flush",
              "title":{"text":"P2","anchor":"middle","frame":"group","fontSize":8,"offset":1},
              "facet":{"row":{"field":"r","type":"nominal","sort":["0hr","1hr","48hr","96hr","Sgy","1Mo","3Mo"],"header":{"title":null,"labels":false}}},
              "spacing":{"row":0},
              "spec":{"width":39,"height":10,"layer":[
               {"mark":{"type":"area","color":"#000","interpolate":"monotone"},"encoding":{"x":{"field":"x","type":"quantitative","scale":{"domain":[-0.1,4.1]},"axis":{"title":null,"values":[0,1,2,3,4],"tickCount":10,"labelFontSize":3,"labelColor":"#999","tickSize":2,"labelPadding":1,"labelFlush":true,"domainColor":"#999","tickColor":"#999","labelExpr":"'10' + ['⁰','¹','²','³','⁴'][datum.value]"}},"y":{"field":"y","type":"quantitative","scale":{"domain":[0,1.15]},"axis":null}}},
               {"mark":{"type":"rule","color":"#aaa","strokeWidth":0.8},"encoding":{"x":{"datum":2.45}}},
               {"mark":{"type":"rule","color":"#999","strokeWidth":0.7},"encoding":{"x":{"datum":-0.1}}},
               {"mark":{"type":"rule","color":"#999","strokeWidth":0.7},"encoding":{"x":{"datum":4.1}}},
               {"transform":[{"filter":"datum.r == '0hr'"}],"mark":{"type":"rule","color":"#999","strokeWidth":0.7},"encoding":{"y":{"datum":1.15,"axis":null}}},
               {"transform":[{"filter":"datum.r == '3Mo'"}],"mark":{"type":"rule","color":"#999","strokeWidth":0.7},"encoding":{"y":{"datum":0,"axis":null}}},
               {"transform":[{"aggregate":[{"op":"count","as":"n"}],"groupby":["r"]}],"mark":{"type":"text","align":"right","baseline":"middle","fontSize":6,"color":"#333","dx":-2.5},"encoding":{"x":{"datum":-0.1},"y":{"datum":0.575,"axis":null},"text":{"field":"r"}}},
               {"transform":[{"aggregate":[{"op":"count","as":"n"}],"groupby":["r"]},{"filter":"datum.r == '3Mo'"}],"mark":{"type":"text","align":"center","baseline":"middle","fontSize":6.5,"color":"#333","dy":12},"encoding":{"x":{"datum":2.0},"y":{"datum":0,"axis":null},"text":{"value":"DNAM-1"}}}
              ]}
             },
             {
              "data":{"name":"h2"},"transform":[{"filter":"datum.p == 'NKG2D'"}],
              "bounds":"flush",
              "title":{"text":"P1","anchor":"middle","frame":"group","fontSize":8,"offset":1},
              "facet":{"row":{"field":"r","type":"nominal","sort":["0hr","1hr","24hr","72hr","Sgy","1Mo","3Mo"],"header":{"title":null,"labels":false}}},
              "spacing":{"row":0},
              "spec":{"width":39,"height":10,"layer":[
               {"mark":{"type":"area","color":"#000","interpolate":"monotone"},"encoding":{"x":{"field":"x","type":"quantitative","scale":{"domain":[-0.1,4.1]},"axis":{"title":null,"values":[0,1,2,3,4],"tickCount":10,"labelFontSize":3,"labelColor":"#999","tickSize":2,"labelPadding":1,"labelFlush":true,"domainColor":"#999","tickColor":"#999","labelExpr":"'10' + ['⁰','¹','²','³','⁴'][datum.value]"}},"y":{"field":"y","type":"quantitative","scale":{"domain":[0,1.15]},"axis":null}}},
               {"mark":{"type":"rule","color":"#aaa","strokeWidth":0.8},"encoding":{"x":{"datum":1.4}}},
               {"mark":{"type":"rule","color":"#999","strokeWidth":0.7},"encoding":{"x":{"datum":-0.1}}},
               {"mark":{"type":"rule","color":"#999","strokeWidth":0.7},"encoding":{"x":{"datum":4.1}}},
               {"transform":[{"filter":"datum.r == '0hr'"}],"mark":{"type":"rule","color":"#999","strokeWidth":0.7},"encoding":{"y":{"datum":1.15,"axis":null}}},
               {"transform":[{"filter":"datum.r == '3Mo'"}],"mark":{"type":"rule","color":"#999","strokeWidth":0.7},"encoding":{"y":{"datum":0,"axis":null}}},
               {"transform":[{"aggregate":[{"op":"count","as":"n"}],"groupby":["r"]}],"mark":{"type":"text","align":"right","baseline":"middle","fontSize":6,"color":"#333","dx":-2.5},"encoding":{"x":{"datum":-0.1},"y":{"datum":0.575,"axis":null},"text":{"field":"r"}}},
               {"transform":[{"aggregate":[{"op":"count","as":"n"}],"groupby":["r"]},{"filter":"datum.r == '3Mo'"}],"mark":{"type":"text","align":"center","baseline":"middle","fontSize":6.5,"color":"#333","dy":12},"encoding":{"x":{"datum":2.0},"y":{"datum":0,"axis":null},"text":{"value":"NKG2D"}}}
              ]}
             }
            ]
           },
           {
            "spacing":2,
            "hconcat":[
             {
              "data":{"name":"h2"},"transform":[{"filter":"datum.p == 'NKp44'"}],
              "bounds":"flush",
              "title":{"text":"P2","anchor":"middle","frame":"group","fontSize":8,"offset":1},
              "facet":{"row":{"field":"r","type":"nominal","sort":["0hr","1hr","48hr","96hr","Sgy","1Mo","3Mo"],"header":{"title":null,"labels":false}}},
              "spacing":{"row":0},
              "spec":{"width":37,"height":10,"layer":[
               {"mark":{"type":"area","color":"#000","interpolate":"monotone"},"encoding":{"x":{"field":"x","type":"quantitative","scale":{"domain":[-0.1,4.1]},"axis":{"title":null,"values":[0,1,2,3,4],"tickCount":10,"labelFontSize":3,"labelColor":"#999","tickSize":2,"labelPadding":1,"labelFlush":true,"domainColor":"#999","tickColor":"#999","labelExpr":"'10' + ['⁰','¹','²','³','⁴'][datum.value]"}},"y":{"field":"y","type":"quantitative","scale":{"domain":[0,1.15]},"axis":null}}},
               {"mark":{"type":"rule","color":"#aaa","strokeWidth":0.8},"encoding":{"x":{"datum":0.8}}},
               {"mark":{"type":"rule","color":"#999","strokeWidth":0.7},"encoding":{"x":{"datum":-0.1}}},
               {"mark":{"type":"rule","color":"#999","strokeWidth":0.7},"encoding":{"x":{"datum":4.1}}},
               {"transform":[{"filter":"datum.r == '0hr'"}],"mark":{"type":"rule","color":"#999","strokeWidth":0.7},"encoding":{"y":{"datum":1.15,"axis":null}}},
               {"transform":[{"filter":"datum.r == '3Mo'"}],"mark":{"type":"rule","color":"#999","strokeWidth":0.7},"encoding":{"y":{"datum":0,"axis":null}}},
               {"transform":[{"aggregate":[{"op":"count","as":"n"}],"groupby":["r"]}],"mark":{"type":"text","align":"right","baseline":"middle","fontSize":6,"color":"#333","dx":-2.5},"encoding":{"x":{"datum":-0.1},"y":{"datum":0.575,"axis":null},"text":{"field":"r"}}},
               {"transform":[{"aggregate":[{"op":"count","as":"n"}],"groupby":["r"]},{"filter":"datum.r == '3Mo'"}],"mark":{"type":"text","align":"center","baseline":"middle","fontSize":6.5,"color":"#333","dy":12},"encoding":{"x":{"datum":2.0},"y":{"datum":0,"axis":null},"text":{"value":"NKp44"}}}
              ]}
             },
             {
              "spacing":10,
              "hconcat":[
               {
                "data":{"name":"h2"},"transform":[{"filter":"datum.p == 'NKp46'"}],
                "bounds":"flush",
                "title":{"text":"P2","anchor":"middle","frame":"group","fontSize":8,"offset":1},
                "facet":{"row":{"field":"r","type":"nominal","sort":["0hr","1hr","48hr","96hr","Sgy","1Mo","3Mo"],"header":{"title":null,"labels":false}}},
                "spacing":{"row":0},
                "spec":{"width":37,"height":10,"layer":[
                 {"mark":{"type":"area","color":"#000","interpolate":"monotone"},"encoding":{"x":{"field":"x","type":"quantitative","scale":{"domain":[-0.1,4.1]},"axis":{"title":null,"values":[0,1,2,3,4],"tickCount":10,"labelFontSize":3,"labelColor":"#999","tickSize":2,"labelPadding":1,"labelFlush":true,"domainColor":"#999","tickColor":"#999","labelExpr":"'10' + ['⁰','¹','²','³','⁴'][datum.value]"}},"y":{"field":"y","type":"quantitative","scale":{"domain":[0,1.15]},"axis":null}}},
                 {"mark":{"type":"rule","color":"#aaa","strokeWidth":0.8},"encoding":{"x":{"datum":2.0}}},
                 {"mark":{"type":"rule","color":"#999","strokeWidth":0.7},"encoding":{"x":{"datum":-0.1}}},
                 {"mark":{"type":"rule","color":"#999","strokeWidth":0.7},"encoding":{"x":{"datum":4.1}}},
                 {"transform":[{"filter":"datum.r == '0hr'"}],"mark":{"type":"rule","color":"#999","strokeWidth":0.7},"encoding":{"y":{"datum":1.15,"axis":null}}},
                 {"transform":[{"filter":"datum.r == '3Mo'"}],"mark":{"type":"rule","color":"#999","strokeWidth":0.7},"encoding":{"y":{"datum":0,"axis":null}}},
                 {"transform":[{"aggregate":[{"op":"count","as":"n"}],"groupby":["r"]}],"mark":{"type":"text","align":"right","baseline":"middle","fontSize":6,"color":"#333","dx":-2.5},"encoding":{"x":{"datum":-0.1},"y":{"datum":0.575,"axis":null},"text":{"field":"r"}}},
                 {"transform":[{"aggregate":[{"op":"count","as":"n"}],"groupby":["r"]},{"filter":"datum.r == '3Mo'"}],"mark":{"type":"text","align":"center","baseline":"middle","fontSize":6.5,"color":"#333","dy":12},"encoding":{"x":{"datum":2.0},"y":{"datum":0,"axis":null},"text":{"value":"NKp46"}}}
                ]}
               },
               {
                "data":{"name":"h2"},"transform":[{"filter":"datum.p == 'Tetherin'"}],
                "bounds":"flush",
                "title":{"text":"P7","anchor":"middle","frame":"group","fontSize":8,"offset":1},
                "facet":{"row":{"field":"r","type":"nominal","sort":["0hr","1hr","48hr","96hr","Sgy","1Mo"],"header":{"title":null,"labels":false}}},
                "spacing":{"row":0},
                "spec":{"width":37,"height":10,"layer":[
                 {"mark":{"type":"area","color":"#000","interpolate":"monotone"},"encoding":{"x":{"field":"x","type":"quantitative","scale":{"domain":[-0.1,4.1]},"axis":{"title":null,"values":[0,1,2,3,4],"tickCount":10,"labelFontSize":3,"labelColor":"#999","tickSize":2,"labelPadding":1,"labelFlush":true,"domainColor":"#999","tickColor":"#999","labelExpr":"'10' + ['⁰','¹','²','³','⁴'][datum.value]"}},"y":{"field":"y","type":"quantitative","scale":{"domain":[0,1.15]},"axis":null}}},
                 {"mark":{"type":"rule","color":"#aaa","strokeWidth":0.8},"encoding":{"x":{"datum":2.1}}},
                 {"mark":{"type":"rule","color":"#999","strokeWidth":0.7},"encoding":{"x":{"datum":-0.1}}},
                 {"mark":{"type":"rule","color":"#999","strokeWidth":0.7},"encoding":{"x":{"datum":4.1}}},
                 {"transform":[{"filter":"datum.r == '0hr'"}],"mark":{"type":"rule","color":"#999","strokeWidth":0.7},"encoding":{"y":{"datum":1.15,"axis":null}}},
                 {"transform":[{"filter":"datum.r == '1Mo'"}],"mark":{"type":"rule","color":"#999","strokeWidth":0.7},"encoding":{"y":{"datum":0,"axis":null}}},
                 {"transform":[{"aggregate":[{"op":"count","as":"n"}],"groupby":["r"]}],"mark":{"type":"text","align":"right","baseline":"middle","fontSize":6,"color":"#333","dx":-2.5},"encoding":{"x":{"datum":-0.1},"y":{"datum":0.575,"axis":null},"text":{"field":"r"}}},
                 {"transform":[{"aggregate":[{"op":"count","as":"n"}],"groupby":["r"]},{"filter":"datum.r == '1Mo'"}],"mark":{"type":"text","align":"center","baseline":"middle","fontSize":6.5,"color":"#333","dy":21},"encoding":{"x":{"datum":2.0},"y":{"datum":0,"axis":null},"text":{"value":"Tetherin"}}}
                ]}
               }
              ]
             }
            ]
           }
          ]
         }
        ]
       }
      ]
     }
    ]
   }
  ]
 }
]
}
